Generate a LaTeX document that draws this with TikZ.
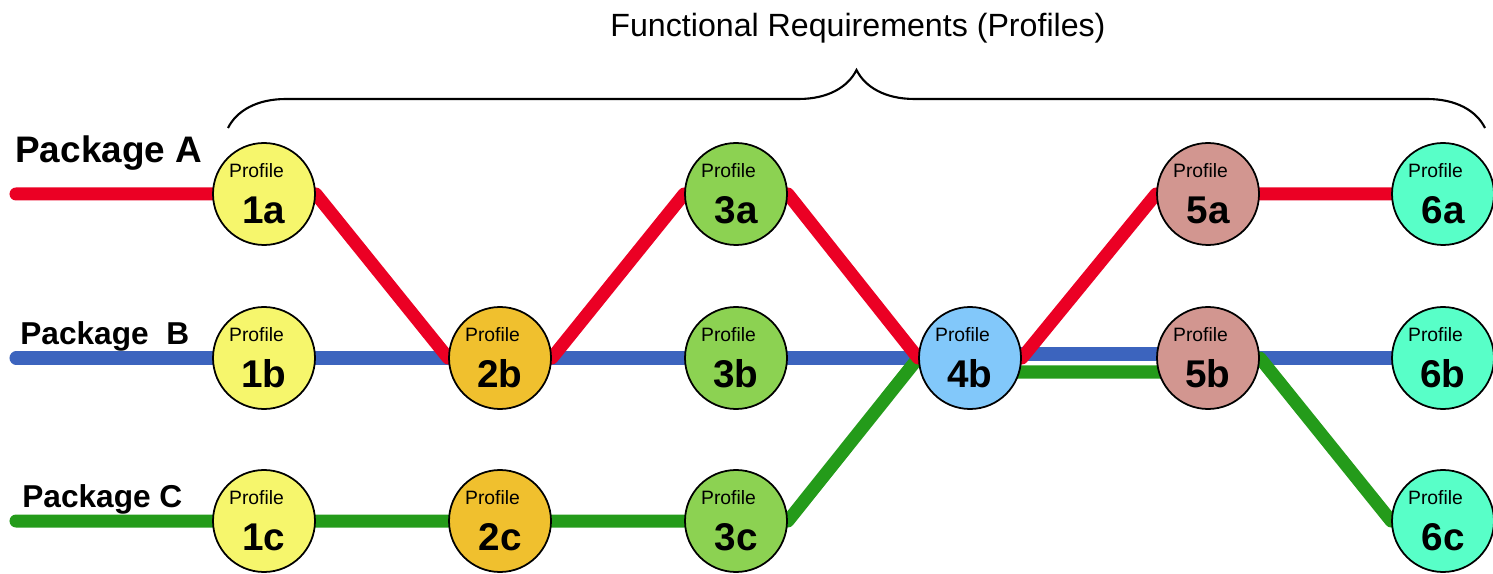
\documentclass[tikz,border=0pt]{standalone}
\usepackage{fontspec}
\setmainfont{Liberation Sans}
\usepackage{tikz}
\usetikzlibrary{decorations.pathreplacing,backgrounds}
\definecolor{profyellow}{HTML}{F6F66C}
\definecolor{profgold}{HTML}{F0C02E}
\definecolor{profgreen}{HTML}{8CD252}
\definecolor{profblue}{HTML}{82C8FA}
\definecolor{profrose}{HTML}{D29690}
\definecolor{profaqua}{HTML}{58FFC8}
\definecolor{pkgred}{HTML}{EB0024}
\definecolor{pkgblue}{HTML}{3C64BE}
\definecolor{pkggreen}{HTML}{249B1A}
\newcommand{\proftext}[1]{{\fontsize{11}{12}\selectfont Profile\hspace*{0.3cm}}\\\bfseries#1}

\begin{document}
\begin{tikzpicture}[
  prof/.style={circle,draw,line width=1pt,minimum size=2.04cm,inner sep=0pt,align=center,font=\fontsize{22}{26}\selectfont},
  route/.style={line width=7.4pt,line join=round},
  linea/.style={route,pkgred,line cap=round},
  lineb/.style={route,pkgblue,line cap=round},
  linec/.style={route,pkggreen,line cap=round},
  pkg/.style={anchor=base west,inner sep=0pt}
]
\useasboundingbox (0,0) rectangle (29.86,11.46);
\foreach \x/\y/\n/\c in {5.28/7.58/1a/profyellow,5.28/4.3/1b/profyellow,5.28/1.04/1c/profyellow,
  10/4.3/2b/profgold,10/1.04/2c/profgold,
  14.72/7.58/3a/profgreen,14.72/4.3/3b/profgreen,14.72/1.04/3c/profgreen,
  19.4/4.3/4b/profblue,
  24.16/7.58/5a/profrose,24.16/4.3/5b/profrose,
  28.86/7.58/6a/profaqua,28.86/4.3/6b/profaqua,28.86/1.04/6c/profaqua}{\node[prof,fill=\c] (p\n) at (\x,\y) {\proftext{\n}};}

% package starts
\coordinate (a0) at (0.32,7.58);
\coordinate (b0) at (0.32,4.3);
\coordinate (c0) at (0.32,1.04);
\node[pkg,font=\fontsize{21}{24}\selectfont\bfseries] (pkga) at (0.3,8.2) {Package A};
\node[pkg,font=\fontsize{18}{20}\selectfont\bfseries] (pkgb) at (0.4,4.56) {Package\ \ B};
\node[pkg,font=\fontsize{18}{20}\selectfont\bfseries] (pkgc) at (0.44,1.32) {Package C};

\begin{scope}[on background layer]
\draw[lineb] (b0) -- (p4b.center) -- ([yshift=0.08cm]p4b.center) -- ([yshift=0.08cm]p5b.center) -- (p5b.center) -- (p6b.center);
\draw[linec] (c0) -- (p3c.east) -- (p4b.west) -- ([yshift=-0.28cm]p4b.center) -- ([yshift=-0.28cm]p5b.center) -- (p5b.east) -- (p6c.west) -- (p6c.center);
\draw[linea] (a0) -- (p1a.east) -- (p2b.west) -- (p2b.east) -- (p3a.west) -- (p3a.east) -- (p4b.west) -- (p4b.east) -- (p5a.west) -- (p6a.center);
\end{scope}

% brace over the profiles
\draw[line width=1.2pt,decorate,decoration={brace,amplitude=1.16cm}] (4.56,8.9) -- (29.7,8.9);
\node[font=\fontsize{18.3}{20}\selectfont] (title) at (17.16,10.9) {Functional Requirements (Profiles)};
\end{tikzpicture}
\end{document}
